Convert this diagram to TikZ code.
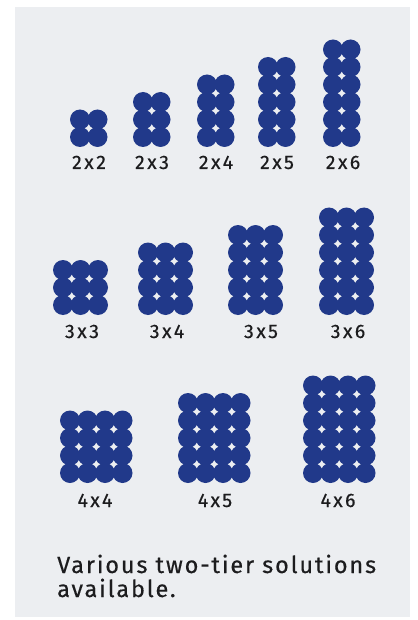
\documentclass[tikz,border=0pt]{standalone}
\usepackage{fontspec}
\setmainfont{Fira Sans}
\newfontfamily\labelfont[LetterSpace=13,FakeBold=0.4]{Fira Sans}
\newfontfamily\notefont[LetterSpace=8,FakeBold=0.4]{Fira Sans}
\definecolor{dotc}{RGB}{33,57,138}
\definecolor{panelc}{RGB}{236,238,241}
\definecolor{textc}{RGB}{28,28,30}
\tikzset{
  dotfill/.style={fill=dotc},
  gridlabel/.style={anchor=base, inner sep=0pt, text=textc, font=\labelfont\fontsize{19.5}{21}\selectfont},
  notetext/.style={anchor=base west, inner sep=0pt, text=textc, font=\notefont\fontsize{23.5}{25}\selectfont}
}
\newcommand\dotgrid[4]{%
  \foreach \i in {1,...,#1}{\foreach \j in {1,...,#2}{
    \fill[dotfill] ({#3+10+(\i-1)*17.5},{#4-10-(\j-1)*17.5}) circle (10pt);
  }}}
\begin{document}
\begin{tikzpicture}[x=1pt,y=-1pt]
\useasboundingbox (0,0) rectangle (417,620);
\fill[white] (0,0) rectangle (417,620);
\fill[panelc] (15,7) rectangle (410,617);
% row 1
\dotgrid{2}{2}{70}{147}
\dotgrid{2}{3}{133}{147}
\dotgrid{2}{4}{197}{147}
\dotgrid{2}{5}{258}{147}
\dotgrid{2}{6}{323}{147}
\node[gridlabel] (l22) at (89,169) {2x2};
\node[gridlabel] (l23) at (152,169) {2x3};
\node[gridlabel] (l24) at (216,169) {2x4};
\node[gridlabel] (l25) at (277,169) {2x5};
\node[gridlabel] (l26) at (343,169) {2x6};
% row 2
\dotgrid{3}{3}{53}{315}
\dotgrid{3}{4}{138}{315}
\dotgrid{3}{5}{228}{315}
\dotgrid{3}{6}{319}{315}
\node[gridlabel] (l33) at (82,338) {3x3};
\node[gridlabel] (l34) at (167,338) {3x4};
\node[gridlabel] (l35) at (261,338) {3x5};
\node[gridlabel] (l36) at (348,338) {3x6};
% row 3
\dotgrid{4}{4}{60}{483}
\dotgrid{4}{5}{178}{483}
\dotgrid{4}{6}{303}{483}
\node[gridlabel] (l44) at (95,507) {4x4};
\node[gridlabel] (l45) at (215,507) {4x5};
\node[gridlabel] (l46) at (338,507) {4x6};
% note
\node[notetext] (note1) at (57,573) {Various two-tier solutions};
\node[notetext] (note2) at (57,597) {available.};
\end{tikzpicture}
\end{document}
